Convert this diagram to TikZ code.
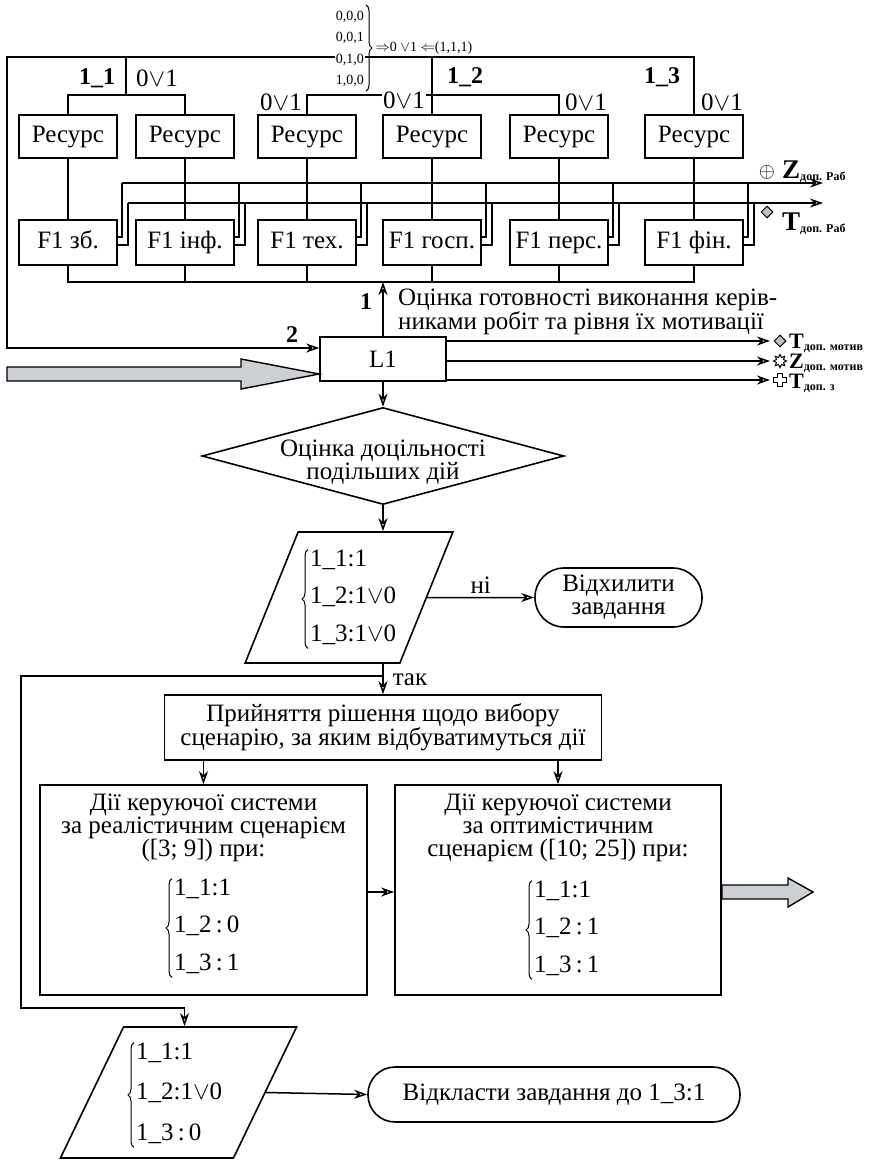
\documentclass[tikz,border=0pt]{standalone}
\usepackage{fontspec}
\setmainfont{Liberation Serif}
\usetikzlibrary{arrows.meta}
\usetikzlibrary{shapes.geometric}
\usetikzlibrary{decorations.pathreplacing}
\definecolor{arrowgrey}{RGB}{204,207,211}
\tikzset{
	every node/.style = {font=\fontsize{25}{23}\selectfont},
	ln/.style = {line width=1.6pt},
	arr/.style = {line width=1.5pt, -{Stealth[open, length=13pt, width=9pt, inset=4pt]}},
	box/.style = {draw, line width=1.6pt, inner sep=2pt},
	res/.style = {box, minimum width=98pt, minimum height=43pt, text height=17pt, text depth=5pt},
	fun/.style = {box, minimum width=98pt, minimum height=45pt, text height=17pt, text depth=5pt},
	lbl/.style = {font=\fontsize{24}{24}\selectfont\bfseries},
	gap/.style = {fill=white, inner sep=1pt},
	fat/.style = {draw, line width=1.4pt, fill=arrowgrey},
	para/.style = {draw, line width=1.6pt, trapezium, trapezium stretches=true, inner sep=0pt},
	term/.style = {draw, line width=1.6pt, align=center},
	sym/.style = {draw, line width=1pt, inner sep=0pt},
	cnd/.style = {anchor=west, inner sep=0pt},
	brc/.style = {decorate, decoration={brace, amplitude=6pt}, line width=1pt}
}
\newcommand{\conds}[4][14pt]{\begin{tabular}{@{}l@{}}#2\\[#1]#3\\[#1]#4\end{tabular}}
\newcommand{\outlab}[3][26]{{\fontsize{#1}{#1}\selectfont\bfseries #2}\raisebox{-2pt}{\fontsize{12}{12}\selectfont\bfseries #3}}

\begin{document}
\begin{tikzpicture}[x=1pt, y=-1pt]
	\useasboundingbox (0,0) rectangle (879,1160);
	\coordinate (ze) at (823,183);
	\coordinate (te) at (823,203);
	\coordinate (bus) at (0,282);
	% resources and functions
	\foreach \i/\x/\t in {1/68/зб., 2/185/інф., 3/307/тех., 4/432/госп., 5/559/перс., 6/694/фін.}{
		\node[res] (res\i) at (\x,136.5) {Ресурс};
		\node[fun] (f\i) at (\x,242.5) {F1 \t};
		\draw[ln] (res\i.south) -- (f\i.north);
		\draw[ln] ([yshift=5.5pt]f\i.east) -| ([xshift=4pt]f\i.east |- ze);
		\draw[ln] ([yshift=-2.5pt]f\i.east) -| ([xshift=10pt]f\i.east |- te);
	}
	\draw[arr] ([xshift=4pt]f1.east |- ze) -- (ze);
	\draw[arr] ([xshift=10pt]f1.east |- te) -- (te);
	\draw[ln] (f1.south) |- (f6.south |- bus) -- (f6.south);
	\foreach \i in {2,...,5} \draw[ln] (f\i.south) -- (f\i.south |- bus);

	% groups 1_1, 1_2, 1_3
	\coordinate (j1) at (126,57);
	\draw[ln] (res1.north) |- (res2.north |- 0,95) -- (res2.north);
	\draw[ln] (res3.north) |- (res5.north |- 0,95) -- (res5.north);
	\draw[ln] (j1) -- (j1 |- 0,95);
	\draw[ln] (res4.north |- j1) -- (res4.north);
	\node[lbl] (g1) at (97,78) {1\_1};
	\node[lbl] (g2) at (465,77) {1\_2};
	\node[lbl] (g3) at (662,77) {1\_3};
	\node (v1) at (157,78) {0$\vee$1};
	\node (v3) at (281,102) {0$\vee$1};
	\node[gap] (v4) at (404,100) {0$\vee$1};
	\node (v5) at (586,102) {0$\vee$1};
	\node (v6) at (722,102) {0$\vee$1};

	% L1
	\node[box, minimum width=126pt, minimum height=44pt] (L1) at (383,359) {L1};
	\draw[arr] (res6.north) |- (7,57) |- ([yshift=11pt]L1.west);
	\draw[arr] (L1.north) -- (L1.north |- bus);
	\node[lbl] (n1) at (366,302) {1};
	\node[lbl] (n2) at (292,335) {2};
	\node[gap, anchor=east, inner ysep=0pt, font=\fontsize{14}{21.5}\selectfont] (codes) at (365,48)
		{\begin{tabular}{@{}r@{}}0,0,0\\0,0,1\\0,1,0\\1,0,0\end{tabular}};
	\draw[brc] ([xshift=1pt]codes.north east) -- ([xshift=1pt]codes.south east);
	\node[anchor=west, font=\fontsize{14}{16}\selectfont] (imp) at (372,48) {$\Rightarrow$0 $\vee$1 $\Leftarrow$(1,1,1)};
	\node[anchor=north west, align=left, inner sep=0pt] (note) at (398,289)
		{Оцінка готовності виконання керів-\\никами робіт та рівня їх мотивації};
	\draw[fat] (7,367) -- (241,367) -- (241,359) -- (L1.west |- 0,374) -- (241,389) -- (241,381) -- (7,381) -- cycle;

	% outputs
	\node (zsym) at (767,172) {\fontsize{21}{21}\selectfont$\oplus$};
	\node[sym, diamond, fill=gray!50, minimum size=12pt] (tsym) at (767,212) {};
	\node[anchor=base west, inner sep=0pt] (zlab) at (782,178) {\outlab[27]{Z}{доп. Раб}};
	\node[anchor=base west, inner sep=0pt] (tlab) at (782,230) {\outlab[27]{T}{доп. Раб}};
	\coordinate (o1) at (770,341);
	\coordinate (o2) at (770,361);
	\coordinate (o3) at (770,380);
	\foreach \o in {o1,o2,o3} \draw[arr] (L1.east |- \o) -- (\o);
	\node[sym, diamond, fill=gray!50, minimum size=12pt] (s1) at (780,341) {};
	\node[sym, star, star points=8, star point ratio=1.7, minimum size=13pt] (s2) at (780,361) {};
	\coordinate (s3) at (780,380);
	\draw[line width=1.3pt, shift={(s3)}] (-2.5,-6.5) -- (2.5,-6.5) -- (2.5,-2.5) -- (6.5,-2.5) -- (6.5,2.5) -- (2.5,2.5)
		-- (2.5,6.5) -- (-2.5,6.5) -- (-2.5,2.5) -- (-6.5,2.5) -- (-6.5,-2.5) -- (-2.5,-2.5) -- cycle;
	\node[anchor=base west, inner sep=0pt] (l1) at (789,348) {\outlab[22]{T}{доп. мотив}};
	\node[anchor=base west, inner sep=0pt] (l2) at (789,368) {\outlab[22]{Z}{доп. мотив}};
	\node[anchor=base west, inner sep=0pt] (l3) at (789,388) {\outlab[22]{T}{доп. з}};

	% decision
	\node[draw, diamond, line width=1.6pt, minimum width=362pt, minimum height=97pt, inner sep=0pt] (dec) at (383,456) {};
	\node[align=center] (dectxt) at (383,462) {Оцінка доцільності\\подільших дій};
	\draw[arr] (L1.south) -- (dec.north);
	\node[para, trapezium left angle=68, trapezium right angle=112, minimum width=208pt, minimum height=131pt] (p1) at (349,597.5) {\strut\phantom{X}};
	\node[cnd] (c1) at (310,599) {\conds{1\_1:1}{1\_2:1$\vee$0}{1\_3:1$\vee$0}};
	\draw[brc] ([xshift=-2pt]c1.south west) -- ([xshift=-2pt]c1.north west);
	\draw[arr] (dec.south) -- (dec.south |- p1.north);
	\node[term, rounded corners=29pt, minimum width=167pt, minimum height=59pt] (rej) at (618.5,597.5) {Відхилити\\завдання};
	\draw[arr] (p1.east) -- (rej.west) node[midway, above] (no) {ні};

	% scenarios
	\node[box, minimum width=437pt, minimum height=65pt, align=center] (choose) at (383,727.5)
		{Прийняття рішення щодо вибору\\сценарію, за яким відбуватимуться дії};
	\coordinate (fork) at (383,676);
	\draw[arr] (dec.south |- p1.south) -- (choose.north);
	\node (yes) at (410,680) {так};
	\node[box, minimum width=327pt, minimum height=210pt] (real) at (203.5,890) {};
	\node[align=center, inner sep=0pt] (realhd) at (203.5,828) {Дії керуючої системи\\за реалістичним сценарієм\\([3; 9]) при:};
	\node[cnd] (c2) at (174,928) {\conds{1\_1:1}{1\_2\,:\,0}{1\_3\,:\,1}};
	\draw[brc] ([xshift=-2pt]c2.south west) -- ([xshift=-2pt]c2.north west);
	\node[box, minimum width=326pt, minimum height=210pt] (opt) at (558,890) {};
	\node[align=center, inner sep=0pt] (opthd) at (558,828) {Дії керуючої системи\\за оптимістичним\\сценарієм ([10; 25]) при:};
	\node[cnd] (c3) at (534,930) {\conds{1\_1:1}{1\_2\,:\,1}{1\_3\,:\,1}};
	\draw[brc] ([xshift=-2pt]c3.south west) -- ([xshift=-2pt]c3.north west);
	\draw[arr] (real.north |- choose.south) -- (real.north);
	\draw[arr] (opt.north |- choose.south) -- (opt.north);
	\draw[arr] ([yshift=-2pt]real.east) -- ([yshift=-2pt]opt.west);
	\draw[fat] (opt.east |- 0,885) -- (788,885) -- (788,878) -- (813,892) -- (788,907) -- (788,899) -- (opt.east |- 0,899) -- cycle;

	% postpone
	\node[para, trapezium left angle=66, trapezium right angle=114, minimum width=237pt, minimum height=131pt] (p2) at (178.5,1092.5) {\strut\phantom{X}};
	\node[cnd] (c4) at (136,1095) {\conds[17pt]{1\_1:1}{1\_2:1$\vee$0}{1\_3\,:\,0}};
	\draw[brc] ([xshift=-2pt]c4.south west) -- ([xshift=-2pt]c4.north west);
	\draw[arr] (fork) -| (21,1008) -| ([xshift=6pt]p2.north);
	\node[term, rounded corners=27pt, minimum width=372pt, minimum height=55pt] (post) at (554,1094.5) {Відкласти завдання до 1\_3:1};
	\draw[arr] (p2.east) -- (post.west);
\end{tikzpicture}
\end{document}
